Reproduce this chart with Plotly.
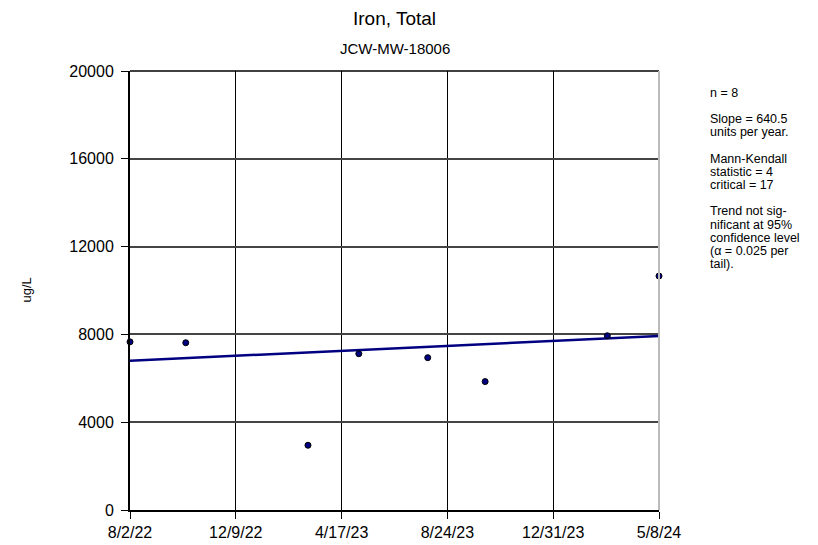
import pandas as pd
import plotly.graph_objects as go

# Sample dates and measured values (ug/L)
dates = ['2022-08-02', '2022-10-09', '2023-03-07', '2023-05-08',
         '2023-07-31', '2023-10-09', '2024-03-06', '2024-05-08']
values = [7660, 7620, 2950, 7120, 6940, 5850, 7940, 10660]

# Trend line (Sen's slope)
slope_per_year = 640.5
trend_start = 6800

tick_dates = ['2022-08-02', '2022-12-09', '2023-04-17', '2023-08-24', '2023-12-31', '2024-05-08']
tick_labels = ['8/2/22', '12/9/22', '4/17/23', '8/24/23', '12/31/23', '5/8/24']
y_ticks = [0, 4000, 8000, 12000, 16000, 20000]

# side note, one entry per line ('' = blank line)
note_lines = ['n = 8', '', 'Slope = 640.5', 'units per year.', '', 'Mann-Kendall',
              'statistic = 4', 'critical = 17', '', 'Trend not sig-', 'nificant at 95%',
              'confidence level', '(α = 0.025 per', 'tail).']

d = pd.to_datetime(dates)
t0, t1 = pd.Timestamp(tick_dates[0]), pd.Timestamp(tick_dates[-1])
trend_x = [t0, t1]
trend_y = [trend_start, trend_start + slope_per_year * (t1 - t0).days / 365.25]

font = 'Liberation Sans, Arial, sans-serif'

fig = go.Figure()
fig.add_trace(go.Scatter(x=trend_x, y=trend_y, mode='lines',
                         line=dict(color='#000080', width=2.5), cliponaxis=False))
fig.add_trace(go.Scatter(x=d, y=values, mode='markers', cliponaxis=False,
                         marker=dict(color='#000080', size=6, line=dict(color='black', width=1))))

annotations = [
    dict(text='Iron, Total', x=0.5, y=1, xref='paper', yref='paper', xanchor='center',
         yanchor='middle', yshift=53, showarrow=False, font=dict(size=19)),
    dict(text='JCW-MW-18006', x=0.5, y=1, xref='paper', yref='paper', xanchor='center',
         yanchor='middle', yshift=23, showarrow=False, font=dict(size=15)),
    dict(text='ug/L', x=0, y=0.5, xref='paper', yref='paper', textangle=-90,
         xanchor='center', yanchor='middle', xshift=-104, showarrow=False, font=dict(size=13)),
]
# side note laid out line by line with a tight line height
y_off = 22
for line in note_lines:
    if line:
        annotations.append(dict(text=line, x=1, y=1, xref='paper', yref='paper',
                                xanchor='left', yanchor='middle', xshift=49, yshift=-y_off,
                                align='left', showarrow=False, font=dict(size=12.5)))
    y_off += 13.15

fig.update_layout(
    width=818, height=545, showlegend=False,
    paper_bgcolor='white', plot_bgcolor='white',
    margin=dict(l=122, r=167, t=63, b=38),
    font=dict(family=font, color='black'),
    xaxis=dict(range=[t0, t1], tickvals=pd.to_datetime(tick_dates), ticktext=tick_labels,
               showgrid=True, gridcolor='black', gridwidth=1,
               showline=True, linecolor='black', linewidth=2, mirror=False,
               ticks='outside', ticklen=7, tickcolor='black', tickfont=dict(size=16),
               zeroline=False),
    yaxis=dict(range=[0, 20000], tickvals=y_ticks, ticktext=[str(v) for v in y_ticks],
               showgrid=True, gridcolor='#444444', gridwidth=1.5,
               showline=True, linecolor='black', linewidth=2,
               ticks='outside', ticklen=7, tickcolor='black', tickfont=dict(size=16),
               ticklabelstandoff=4, zeroline=False),
    annotations=annotations,
    shapes=[
        dict(type='line', xref='paper', yref='paper', x0=0, x1=1, y0=1, y1=1,
             line=dict(color='black', width=1.5)),
        dict(type='line', xref='paper', yref='paper', x0=1, x1=1, y0=0, y1=1,
             line=dict(color='#bbbbbb', width=2)),
    ],
)

fig.write_html('out.html')
